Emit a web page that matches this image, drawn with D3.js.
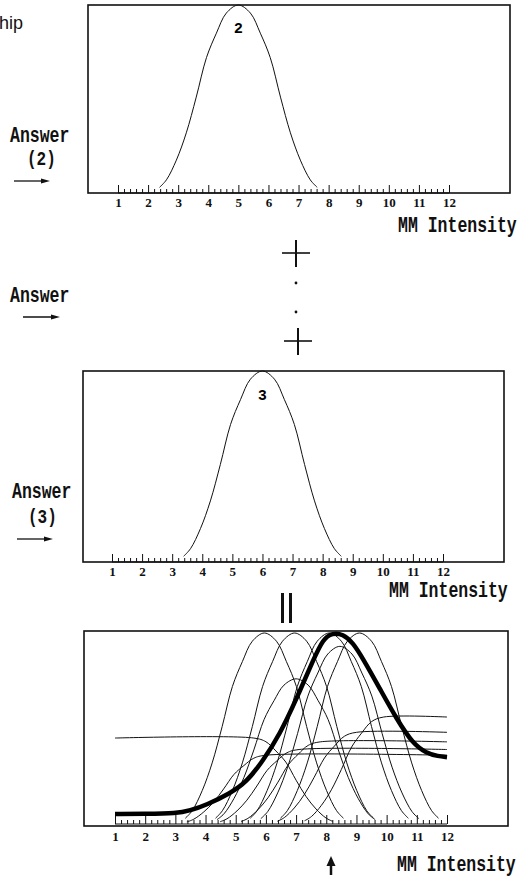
<!DOCTYPE html>
<html>
<head>
<meta charset="utf-8">
<script src="https://cdn.jsdelivr.net/npm/d3@7/dist/d3.min.js"></script>
<style>
  body { margin: 0; background: #fff; }
  svg { display: block; }
  .mono { font-family: "Liberation Mono", monospace; fill: #111; }
  .tick text { font-family: "Liberation Serif", serif; font-weight: bold; font-size: 13px; fill: #111; }
  .tick line { stroke: #111; }
</style>
</head>
<body>
<svg id="svg" width="524" height="878"></svg>
<script>
var svg = d3.select("#svg");

// x axis: MM intensity 1..12
var tickValues = [1, 2, 3, 4, 5, 6, 7, 8, 9, 10, 11, 12];
var tickLabels = ["1", "2", "3", "4", "5", "6", "7", "8", "9", "10", "11", "12"];

// shape of one membership bell (offset from centre, height)
var bellOffset = [-2.62, -2.39, -2.06, -1.73, -1.40, -1.06, -0.73, -0.40, 0, 0.40, 0.73, 1.06, 1.40, 1.73, 2.06, 2.39, 2.62];
var bellValue  = [0.03, 0.07, 0.175, 0.32, 0.51, 0.72, 0.85, 0.957, 1, 0.957, 0.85, 0.72, 0.51, 0.32, 0.175, 0.07, 0.03];

// single answers shown in the two upper panels
var answerCenters = [5.0, 6.0];
var answerNames = ["2", "3"];

// bottom panel: full / scaled bells
var bellCenters = [5.95, 6.95, 8.1, 9.1, 7.0, 8.45];
var bellHeights = [1, 1, 1, 1, 0.76, 0.93];
// rising curves that level off to the right edge
var riseCenters = [9.9, 9.0, 7.8, 7.1, 6.0];
var riseLevels  = [0.56, 0.48, 0.43, 0.39, 0.36];
// falling curve that starts flat at the left edge
var fallCenters = [5.6];
var fallLevels  = [0.45];

// the summed (thick) curve
var sumX = [1.0, 2.0, 3.04, 3.48, 4.03, 4.81, 5.36, 5.9, 6.46, 7.0, 7.57, 7.9, 8.2, 8.55, 8.88, 9.2, 9.77, 10.33, 10.87, 11.33, 11.7, 12.0];
var sumY = [0.053, 0.053, 0.055, 0.07, 0.10, 0.16, 0.22, 0.33, 0.47, 0.65, 0.86, 0.97, 1.0, 0.995, 0.95, 0.87, 0.71, 0.55, 0.42, 0.37, 0.355, 0.35];

var panels = [
  {x0: 88, y0: 5, x1: 510, y1: 193, ax0: 118, ax1: 449, top: 5, base: 193, pad: 5, major: 8},
  {x0: 83, y0: 371, x1: 504, y1: 562, ax0: 112, ax1: 443, top: 371, base: 562, pad: 5, major: 8},
  {x0: 84, y0: 631, x1: 508, y1: 826, ax0: 115, ax1: 447, top: 633, base: 824, pad: 8, major: 9}
];

var minorTicks = d3.range(1, 12.001, 0.2).filter(function(d) { return Math.abs(d - Math.round(d)) > 0.01; });

function drawPanel(p) {
  var x = d3.scaleLinear().domain([1, 12]).range([p.ax0, p.ax1]);
  var y = d3.scaleLinear().domain([0, 1]).range([p.base, p.top]);
  svg.append("rect")
    .attr("x", p.x0).attr("y", p.y0)
    .attr("width", p.x1 - p.x0).attr("height", p.y1 - p.y0)
    .attr("fill", "none").attr("stroke", "#111").attr("stroke-width", 1.6);
  var g = svg.append("g").attr("transform", "translate(0," + p.base + ")");
  g.call(d3.axisBottom(x).tickValues(minorTicks).tickSize(-4).tickFormat(""))
    .select(".domain").remove();
  var g2 = svg.append("g").attr("transform", "translate(0," + p.base + ")");
  g2.call(d3.axisBottom(x).tickValues(tickValues).tickSize(-p.major).tickPadding(p.pad)
      .tickFormat(function(d, i) { return tickLabels[i]; }))
    .select(".domain").remove();
  svg.append("line").attr("x1", p.ax0).attr("x2", p.ax1)
    .attr("y1", p.base).attr("y2", p.base).attr("stroke", "#111").attr("stroke-width", 1.2);
  return {x: x, y: y};
}

function bell(c, h) {
  return bellOffset.map(function(o, i) { return [c + o, bellValue[i] * h]; });
}

function lineFor(s, curve) {
  return d3.line()
    .x(function(d) { return s.x(d[0]); })
    .y(function(d) { return s.y(d[1]); })
    .curve(curve || d3.curveCatmullRom.alpha(0.5));
}

function thin(s, pts) {
  svg.append("path").datum(pts)
    .attr("d", lineFor(s)).attr("fill", "none").attr("stroke", "#111").attr("stroke-width", 1);
}

// upper two panels
answerCenters.forEach(function(c, i) {
  var s = drawPanel(panels[i]);
  thin(s, bell(c, 1));
  svg.append("text")
    .attr("x", s.x(c)).attr("y", s.y(1) + (i == 0 ? 28 : 29))
    .attr("text-anchor", "middle")
    .attr("font-family", "Liberation Sans, Arial, sans-serif")
    .attr("font-weight", "bold").attr("font-size", 15)
    .text(answerNames[i]);
});

// bottom panel
var s3 = drawPanel(panels[2]);
bellCenters.forEach(function(c, i) { thin(s3, bell(c, bellHeights[i])); });
riseCenters.forEach(function(c, i) {
  var pts = bell(c, riseLevels[i]).filter(function(d) { return d[0] <= c; });
  pts.push([12, riseLevels[i]]);
  thin(s3, pts);
});
fallCenters.forEach(function(c, i) {
  var pts = [[1, fallLevels[i]]].concat(bell(c, fallLevels[i]).filter(function(d) { return d[0] >= c; }));
  thin(s3, pts);
});
svg.append("path")
  .datum(sumX.map(function(v, i) { return [v, sumY[i]]; }))
  .attr("d", lineFor(s3, d3.curveBasis))
  .attr("fill", "none").attr("stroke", "#000").attr("stroke-width", 4.5);

// texts, stretched tall like the typewriter face of the original
function mono(x, y, txt, size) {
  svg.append("text").attr("class", "mono")
    .attr("transform", "translate(" + x + "," + y + ") scale(1,1.3)")
    .attr("font-size", size)
    .attr("font-weight", "bold")
    .text(txt);
}
mono(398, 232, "MM Intensity", 16.5);
mono(389, 597, "MM Intensity", 16.5);
mono(397, 871, "MM Intensity", 16.5);
mono(10, 142, "Answer", 16.5);
mono(27, 165, "(2)", 16);
mono(10, 302, "Answer", 16.5);
mono(12, 498, "Answer", 16.5);
mono(28, 523, "(3)", 16);

svg.append("text").attr("x", -1).attr("y", 29)
  .attr("font-family", "Liberation Sans, Arial, sans-serif")
  .attr("font-size", 18).attr("fill", "#111")
  .text("hip");

// arrows next to "Answer"
function arrow(x1, x2, y) {
  svg.append("line").attr("x1", x1).attr("x2", x2 - 4).attr("y1", y).attr("y2", y)
    .attr("stroke", "#111").attr("stroke-width", 1.3);
  svg.append("path")
    .attr("d", "M" + x2 + "," + y + " L" + (x2 - 9) + "," + (y - 2.5) + " L" + (x2 - 9) + "," + (y + 2.5) + " Z")
    .attr("fill", "#111");
}
arrow(14, 50, 181);
arrow(23, 60, 317);
arrow(17, 53, 539);

// plus signs and dots between panels
function plus(cx, cy) {
  svg.append("line").attr("x1", cx - 14).attr("x2", cx + 14).attr("y1", cy).attr("y2", cy)
    .attr("stroke", "#111").attr("stroke-width", 1.6);
  svg.append("line").attr("x1", cx).attr("x2", cx).attr("y1", cy - 13).attr("y2", cy + 14)
    .attr("stroke", "#111").attr("stroke-width", 2);
}
plus(296, 253);
plus(298, 341);
svg.append("circle").attr("cx", 296).attr("cy", 283).attr("r", 1.4).attr("fill", "#111");
svg.append("circle").attr("cx", 296).attr("cy", 312).attr("r", 1.4).attr("fill", "#111");

// "=" drawn vertically
svg.append("rect").attr("x", 281).attr("y", 593).attr("width", 3).attr("height", 30).attr("fill", "#111");
svg.append("rect").attr("x", 289).attr("y", 593).attr("width", 3).attr("height", 30).attr("fill", "#111");

// up arrow under 8
svg.append("line").attr("x1", 331).attr("x2", 331).attr("y1", 862).attr("y2", 875)
  .attr("stroke", "#111").attr("stroke-width", 2.5);
svg.append("path").attr("d", "M331,856 L326.5,866 L335.5,866 Z").attr("fill", "#111");
</script>
</body>
</html>
